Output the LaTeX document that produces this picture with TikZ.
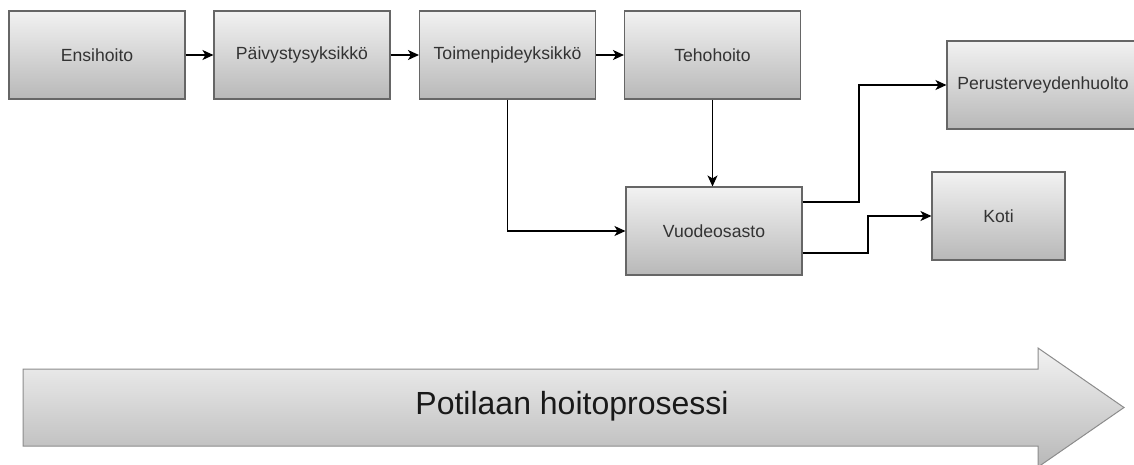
\documentclass[tikz,border=0pt]{standalone}
\usepackage{fontspec}
\setmainfont{Liberation Sans}
\usetikzlibrary{arrows.meta}
\definecolor{boxtop}{HTML}{F2F2F2}
\definecolor{boxbot}{HTML}{B8B8B8}
\definecolor{boxline}{HTML}{666666}
\definecolor{boxtext}{HTML}{333333}
\definecolor{bigline}{HTML}{8C8C8C}
\tikzset{
  stepbox/.style={draw=boxline, line width=1.1pt, top color=boxtop, bottom color=boxbot,
    minimum width=176pt, minimum height=88pt, inner sep=0pt, text=boxtext,
    font=\fontsize{17.6}{20}\selectfont},
  flow/.style={draw=black, line width=1.2pt, -{Stealth[length=11pt,width=10pt,inset=3pt]}},
}
\begin{document}
\begin{tikzpicture}[x=1pt,y=-1pt]
\useasboundingbox (0,0) rectangle (1134,464);
% big process arrow
\path[draw=bigline, line width=1pt, top color=boxtop, bottom color=boxbot]
  (23,369) -- (1038,369) -- (1038,348) -- (1124,407.5) -- (1038,467) -- (1038,446) -- (23,446) -- cycle;
\node[font=\fontsize{32}{36}\selectfont, text=black!90] (proc) at (572,406) {Potilaan hoitoprosessi};
% boxes
\node[stepbox] (ens) at (97,55) {Ensihoito};
\node[stepbox] (pai) at (302,55) {Päivystysyksikkö};
\node[stepbox] (toi) at (507.5,55) {Toimenpideyksikkö};
\node[stepbox] (teh) at (712.5,55) {Tehohoito};
\node[stepbox] (vuo) at (714,231) {Vuodeosasto};
\node[stepbox, minimum width=192pt] (per) at (1043,85) {Perusterveydenhuolto};
\node[stepbox, minimum width=133pt] (kot) at (998.5,216) {Koti};
% bend points
\coordinate (b1) at (859,202);
\coordinate (b2) at (868,253);
% connectors
\draw[flow] (ens) -- (pai);
\draw[flow] (pai) -- (toi);
\draw[flow] (toi) -- (teh);
\draw[flow] (toi.south) |- (vuo.west);
\draw[flow] (teh.south) -- (teh.south |- vuo.north);
\draw[flow] ([yshift=29pt]vuo.east) -- (b1) |- (per.west);
\draw[flow] ([yshift=-22pt]vuo.east) -- (b2) |- (kot.west);
\end{tikzpicture}
\end{document}
